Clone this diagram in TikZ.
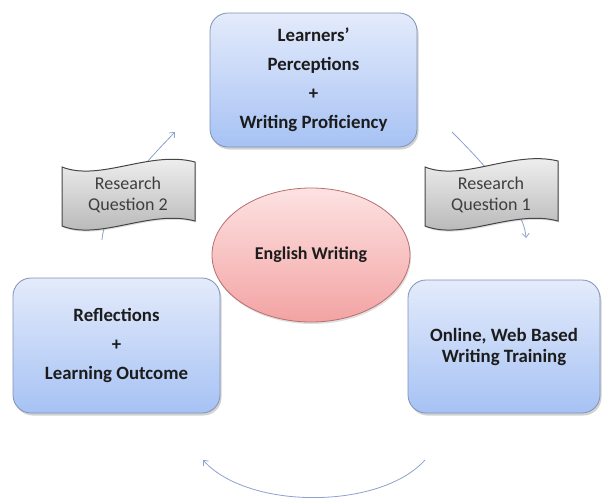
\documentclass[tikz,border=0pt]{standalone}
\usepackage{fontspec}
\setmainfont{Carlito}
\usetikzlibrary{shadows,shapes.geometric,arrows.meta}
\definecolor{boxtop}{RGB}{228,235,251}
\definecolor{boxbot}{RGB}{166,194,244}
\definecolor{boxline}{RGB}{128,146,184}
\definecolor{elltop}{RGB}{253,226,226}
\definecolor{ellbot}{RGB}{243,163,163}
\definecolor{elline}{RGB}{184,110,110}
\definecolor{bantop}{RGB}{244,244,244}
\definecolor{banbot}{RGB}{178,178,178}
\definecolor{banline}{RGB}{70,70,70}
\definecolor{arrcol}{RGB}{140,162,206}
\definecolor{txt}{RGB}{28,28,28}
\begin{document}
\begin{tikzpicture}[x=1pt,y=-1pt,
  box/.style={draw=boxline, line width=0.8pt, rounded corners=18pt,
    top color=boxtop, bottom color=boxbot,
    drop shadow={opacity=0.35, shadow xshift=1.5pt, shadow yshift=-2.5pt},
    text=txt, align=center, inner sep=0pt, font=\bfseries\fontsize{18.8}{29}\selectfont},
  ell/.style={ellipse, draw=elline, line width=0.8pt,
    top color=elltop, bottom color=ellbot,
    drop shadow={opacity=0.25, shadow xshift=1pt, shadow yshift=-2pt},
    text=txt, align=center, inner sep=0pt, font=\bfseries\fontsize{18}{22}\selectfont},
  banner/.style={draw=banline, line width=1pt, top color=bantop, bottom color=banbot,
    drop shadow={opacity=0.25, shadow xshift=1pt, shadow yshift=-1.5pt}},
  bantext/.style={text=txt!85, align=center, inner sep=0pt, font=\fontsize{18}{21}\selectfont},
  arr/.style={draw=arrcol, line width=0.8pt, -{Straight Barb[length=4pt,width=7pt]}}
]
\useasboundingbox (0,0) rectangle (603,498);
\fill[white] (0,0) rectangle (603,498);

% connectors
\coordinate (r1s) at (452,132);
\coordinate (r1e) at (526,238);
\coordinate (r2s) at (102,240);
\coordinate (r2e) at (175,132);
\coordinate (bs) at (425,460);
\coordinate (be) at (203,460);
\draw[arr] (r1s) .. controls (475,155) and (524,205) .. (r1e);
\draw[arr] (r2s) .. controls (104,205) and (153,155) .. (r2e);
\draw[arr] (bs) .. controls (380,510) and (248,510) .. (be);

% boxes
\node[box, minimum width=207pt, minimum height=134pt] (perc) at (313.5,80)
  {Learners'\\Perceptions\\+\\Writing Proficiency};
\node[box, minimum width=207pt, minimum height=135pt] (refl) at (116.5,345.5)
  {Reflections\\+\\Learning Outcome};
\node[box, minimum width=192pt, minimum height=133pt,
  font=\bfseries\fontsize{18.8}{21}\selectfont] (train) at (504,346.5)
  {Online, Web Based\\Writing Training};
\node[ell, minimum width=198pt, minimum height=134pt] (eng) at (311,255) {English Writing};

% banners
\path[banner] (62,167) .. controls (100,182) and (150,150) .. (195,162)
  -- (195,221) .. controls (150,209) and (100,241) .. (62,226) -- cycle;
\node[bantext] (rq2) at (128,195) {Research\\Question 2};
\path[banner] (425,167) .. controls (463,182) and (513,150) .. (558,161)
  -- (558,221) .. controls (513,209) and (463,241) .. (425,226) -- cycle;
\node[bantext] (rq1) at (491,195) {Research\\Question 1};
\end{tikzpicture}
\end{document}
